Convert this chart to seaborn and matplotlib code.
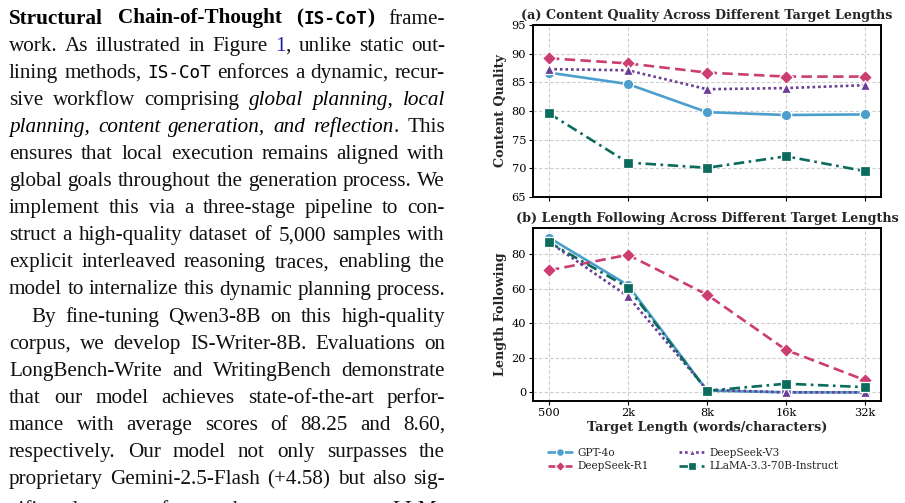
import re
import matplotlib
matplotlib.use("Agg")
import matplotlib.pyplot as plt
from matplotlib.lines import Line2D
import seaborn as sns
import pandas as pd

# ---------------- data ----------------
lengths = ["500", "2k", "8k", "16k", "32k"]
models = ["GPT-4o", "DeepSeek-R1", "DeepSeek-V3", "LLaMA-3.3-70B-Instruct"]
quality_gpt4o = [86.7, 84.7, 79.8, 79.3, 79.4]
quality_r1 = [89.2, 88.3, 86.7, 86.0, 86.0]
quality_v3 = [87.3, 87.1, 83.8, 84.0, 84.5]
quality_llama = [79.6, 71.0, 70.1, 72.1, 69.5]
follow_gpt4o = [89.5, 62.0, 1.0, 0.0, 0.0]
follow_r1 = [70.5, 79.5, 56.5, 24.5, 7.0]
follow_v3 = [87.0, 55.5, 1.5, 0.0, 0.0]
follow_llama = [86.8, 60.6, 0.9, 5.0, 3.0]

quality = [quality_gpt4o, quality_r1, quality_v3, quality_llama]
follow = [follow_gpt4o, follow_r1, follow_v3, follow_llama]

colors = ["#4c9fcc", "#cc3d72", "#6b3d96", "#0b6b5d"]
markers = ["o", "D", "^", "s"]
msizes = [7.5, 7.0, 6.5, 7.0]
lstyles = ["-", (0, (4, 2)), (0, (1, 1.1)), (0, (4, 1.7, 1, 1.7))]

W, H = 905, 503
sns.set_theme(style="ticks")
plt.rcParams["font.family"] = ["DejaVu Serif"]
fig = plt.figure(figsize=(W / 100, H / 100), dpi=100)

ax1 = fig.add_axes([533 / W, 1 - 197 / H, 348 / W, 172 / H])
ax2 = fig.add_axes([533 / W, 1 - 401 / H, 348 / W, 173 / H])

LBL = 9.2


def draw(ax, series, ylim, yticks, ylabel, title):
    for vals, name, c, m, ms, ls in zip(series, models, colors, markers, msizes, lstyles):
        df = pd.DataFrame({"length": lengths, "value": vals})
        sns.lineplot(data=df, x="length", y="value", ax=ax, color=c, marker=m,
                     markersize=ms, markeredgecolor="white", markeredgewidth=0.9,
                     linestyle=ls, linewidth=1.9, label=name, legend=False, sort=False)
    ax.set_xlim(-0.2, 4.2)
    ax.set_ylim(*ylim)
    ax.set_yticks(yticks)
    ax.grid(True, linestyle=(0, (3, 2)), color="#cccccc", linewidth=0.8)
    ax.set_axisbelow(True)
    for sp in ax.spines.values():
        sp.set_visible(True)
        sp.set_color("black")
        sp.set_linewidth(1.4)
    ax.tick_params(axis="both", labelsize=8.2, length=3, width=0.8, pad=2, colors="black")
    ax.set_ylabel(ylabel, fontsize=LBL, fontweight="bold", labelpad=3)
    ax.set_title(title, fontsize=LBL, fontweight="bold", pad=4)
    ax.set_xlabel("")


draw(ax1, quality, (65, 95), [65, 70, 75, 80, 85, 90, 95], "Content Quality",
     "(a) Content Quality Across Different Target Lengths")
draw(ax2, follow, (-5, 95), [0, 20, 40, 60, 80], "Length Following",
     "(b) Length Following Across Different Target Lengths")
ax1.tick_params(axis="x", labelbottom=False)
ax2.set_xlabel("Target Length (words/characters)", fontsize=LBL, fontweight="bold", labelpad=2)

handles = [Line2D([], [], color=c, marker=m, markersize=ms, markeredgecolor="white",
                  markeredgewidth=0.9, linestyle=ls, linewidth=1.9)
           for c, m, ms, ls in zip(colors, markers, msizes, lstyles)]
fig.legend(handles, models, loc="upper center", bbox_to_anchor=(693 / W, 1 - 438 / H),
           ncol=2, frameon=False, fontsize=7.6, markerscale=0.75, handlelength=2.3,
           handletextpad=0.5, columnspacing=2.9, labelspacing=0.35)

# ---------------- left column of paper text ----------------
text_lines = [
    ("{b:Structural Chain-of-Thought} {b:(}{mb:IS-CoT}{b:)} frame-", True, 0),
    ("work. As illustrated in Figure {blue:1}, unlike static out-", True, 0),
    ("lining methods, {m:IS-CoT} enforces a dynamic, recur-", True, 0),
    ("sive workflow comprising {i:global planning, local}", True, 0),
    ("{i:planning, content generation, and reflection}. This", True, 0),
    ("ensures that local execution remains aligned with", True, 0),
    ("global goals throughout the generation process. We", True, 0),
    ("implement this via a three-stage pipeline to con-", True, 0),
    ("struct a high-quality dataset of 5,000 samples with", True, 0),
    ("explicit interleaved reasoning traces, enabling the", True, 0),
    ("model to internalize this dynamic planning process.", False, 0),
    ("By fine-tuning Qwen3-8B on this high-quality", True, 22),
    ("corpus, we develop IS-Writer-8B. Evaluations on", True, 0),
    ("LongBench-Write and WritingBench demonstrate", True, 0),
    ("that our model achieves state-of-the-art perfor-", True, 0),
    ("mance with average scores of 88.25 and 8.60,", True, 0),
    ("respectively.  Our model not only surpasses the", True, 0),
    ("proprietary Gemini-2.5-Flash (+4.58) but also sig-", True, 0),
    ("nificantly outperforms the open-source LLMs", True, 0),
]

serif = ["Liberation Serif"]


def props(style, size):
    if style == "b":
        return dict(family=serif, weight="bold", size=size, color="black")
    if style == "i":
        return dict(family=serif, style="italic", size=size, color="black")
    if style == "m":
        return dict(family=["DejaVu Sans Mono"], size=size * 0.84, color="black")
    if style == "mb":
        return dict(family=["DejaVu Sans Mono"], weight="bold", size=size * 0.84, color="black")
    if style == "blue":
        return dict(family=serif, size=size, color="#1f1fa0")
    return dict(family=serif, size=size, color="#111111")


def parse(line):
    pieces = []
    pos = 0
    for mt in re.finditer(r"\{(\w+):([^}]*)\}", line):
        if mt.start() > pos:
            pieces.append((line[pos:mt.start()], "r"))
        pieces.append((mt.group(2), mt.group(1)))
        pos = mt.end()
    if pos < len(line):
        pieces.append((line[pos:], "r"))
    words = [[]]
    for txt, st in pieces:
        parts = txt.split(" ")
        for k, p in enumerate(parts):
            if k > 0:
                words.append([])
            if p:
                words[-1].append((p, st))
    return [w for w in words if w]


renderer = fig.canvas.get_renderer()


def width(txt, st, size):
    t = fig.text(0, 0, txt, **props(st, size))
    w = t.get_window_extent(renderer).width
    t.remove()
    return w


def line_width(line, size):
    words = parse(line)
    sp = width("x x", "r", size) - width("xx", "r", size)
    return sum(width(p, s, size) for w in words for p, s in w) + sp * (len(words) - 1)


fsize = 16.0
target = 445 - 9
fsize = fsize * target / line_width(text_lines[10][0], fsize)

x0, x1 = 9, 445
base0, step = 23.5, 27.1
space = width("x x", "r", fsize) - width("xx", "r", fsize)
for li, (line, justify, indent) in enumerate(text_lines):
    words = parse(line)
    wlist = [[(p, s, width(p, s, fsize)) for p, s in w] for w in words]
    total = sum(pw for w in wlist for _, _, pw in w)
    avail = x1 - x0 - indent
    gap = (avail - total) / (len(wlist) - 1) if (justify and len(wlist) > 1) else space
    x = x0 + indent
    yb = base0 + li * step
    if li == len(text_lines) - 1:
        yb += 4
    for w in wlist:
        for p, s, pw in w:
            fig.text(x / W, 1 - yb / H, p, va="baseline", ha="left", **props(s, fsize))
            x += pw
        x += gap

fig.savefig("out.png", dpi=100)
